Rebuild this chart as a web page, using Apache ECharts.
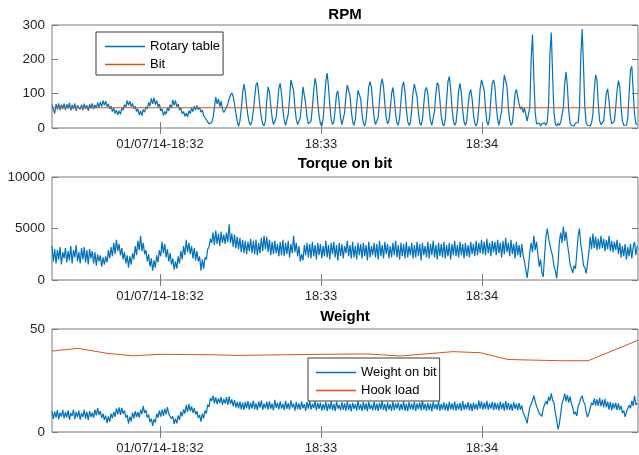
<!DOCTYPE html>
<html><head><meta charset="utf-8">
<script src="https://cdn.jsdelivr.net/npm/echarts@6/dist/echarts.min.js"></script>
<style>html,body{margin:0;padding:0;background:#fff}#c{width:639px;height:455px}</style>
</head><body><div id="c"></div>
<script>
// time axis in seconds after 18:30:00 on 01/07/14
const xMin = 79.8, xMax = 298.1;
const tickSeconds = [120, 180, 240];
const tickLabels = ['01/07/14-18:32', '18:33', '18:34'];
// sampled series: start time and step (s)
const sampleStart = 79.8, sampleStep = 0.5;

const rotaryTable = [
68,55,42,70,54,72,52,68,56,71, 53,69,57,73,51,67,55,72,50,66,
70,54,68,52,71,56,66,50,69,57, 72,55,67,58,74,60,76,62,80,66,
78,62,70,55,64,48,58,42,52,38, 50,40,58,52,68,60,80,66,78,62,
72,56,64,48,56,38,50,36,54,46, 62,56,74,64,86,70,88,68,80,62,
70,50,56,36,48,40,58,50,68,58, 82,66,80,62,70,52,58,42,48,34,
44,32,50,42,58,48,64,52,66,54, 60,46,52,36,40,24,26,12,8,16,
30,60,90,70,85,62,78,55,45,52, 50,70,85,96,102,92,70,42,20,5,
20,55,100,128,105,65,35,15,8,22, 50,90,126,132,100,60,30,12,6,20,
80,120,105,65,30,10,8,30,70,115, 130,100,55,22,8,12,40,85,140,145,
110,60,25,10,6,30,75,120,115,70, 32,12,8,20,60,110,145,125,75,35,
12,6,25,80,135,160,120,65,25,10, 18,55,100,108,70,30,10,12,45,95,
125,130,95,50,18,8,25,70,110,112, 85,40,14,6,22,70,120,135,118,70,
30,10,8,30,80,125,144,120,70,30, 12,20,55,100,118,85,40,14,8,30,
80,122,134,105,55,20,8,15,55,105, 128,130,90,45,15,8,25,70,110,118,
100,55,20,8,12,50,100,132,125,80, 35,12,6,25,80,135,150,115,60,22,
8,15,55,110,130,100,50,18,8,20, 65,100,112,85,40,14,6,18,60,115,
140,145,110,55,18,8,30,85,130,140, 120,65,25,8,12,50,110,155,160,120,
60,22,8,15,55,100,112,110,70,55, 62,45,58,40,20,15,60,200,272,150,
45,12,8,14,6,12,9,15,8,18, 70,220,278,150,45,12,6,14,8,16,
20,60,130,163,120,50,15,8,12,6, 14,10,16,60,210,288,180,60,14,8,
12,6,15,40,110,155,140,70,22,10, 8,20,60,100,114,80,35,12,8,20,
60,110,138,120,60,20,8,12,8,30, 100,170,180,110,40,12,10
];

const bitTimes = [79.8, 298.1];
const bitRpm = [59, 59];

const torqueOnBit = [
3300,1800,3000,1600,2900,2000,3200,1500,2700,2100, 3100,1700,2800,1900,3300,1600,2900,2200,3400,1800,
2700,1600,3100,2000,3200,1700,2900,1500,3000,2100, 2800,1600,2700,1400,2500,1800,2400,1300,2200,1500,
2300,1700,2900,2100,3200,2300,3600,2500,3900,2800, 3500,2400,3100,2000,2700,1600,2400,1200,2300,1500,
2600,2000,3300,2400,3800,2900,4300,2800,3600,2500, 2900,1800,2500,1300,2100,900,1900,1200,2400,1700,
2900,2300,3700,2600,3500,2200,3000,1800,2600,1500, 2100,1000,1800,1100,2300,1600,2800,2000,3300,2400,
3900,2700,3600,2500,3300,2100,3100,1900,2800,1800, 2300,900,2000,1100,2200,2000,3000,3200,4000,3600,
4600,3400,4800,3500,4500,3300,4700,3600,4400,3500, 4600,3700,5400,3600,4500,3200,4400,3100,4200,3000,
4100,2700,3900,2600,3800,2500,3700,2800,4000,2600, 3800,2500,3900,2400,3600,2600,4100,2800,4300,3000,
4200,2700,3900,2400,3700,2500,3800,2600,3500,2300, 3700,2400,3900,2300,3600,2500,3800,2200,3500,2600,
4300,2700,3600,2300,3300,1800,2500,1900,3400,2400, 3600,2200,3500,2100,3700,2300,3400,2000,3600,2400,
3500,2100,3300,2300,3800,2200,3400,2000,3600,2500, 3700,2200,3400,1900,3600,2300,3500,2100,3300,2600,
3800,2300,3400,2100,3700,2200,3300,2000,3600,2400, 3500,2100,3600,2300,3400,1900,3700,2200,3300,2400,
3600,2200,3500,2000,3800,2300,3400,2100,3700,2500, 3500,2100,3300,2200,3600,2400,3800,2200,3400,2000,
3600,2300,3500,2100,3700,2200,3300,2400,3600,2100, 3400,2200,3700,2300,3500,1900,3600,2400,3300,2200,
3700,2100,3500,2400,3800,2200,3400,2000,3600,2300, 3500,2200,3700,2100,3400,2300,3600,2000,3500,2400,
3800,2300,3400,2200,3700,2400,3500,2100,3600,2300, 3400,2200,3700,2500,3500,2300,3800,2400,3600,2600,
3900,2500,3700,2400,4000,2600,3600,2300,3800,2700, 3700,2400,3900,2600,3600,2200,3800,2500,4100,2700,
3600,2300,3900,2500,3500,2100,3700,2400,3400,2200, 3500,2400,1800,1000,200,1300,2700,3600,2700,4300,
2900,3700,2500,1300,2000,700,300,2400,4200,5000, 4000,3900,2800,2300,1300,900,160,1600,3700,4600,
3600,5200,3800,4700,3500,2600,1500,1100,700,1400, 1100,2600,4300,5000,3400,2600,1400,1200,650,1600,
2700,4200,3000,4500,3100,4200,2900,4000,3000,4300, 3100,4000,2800,3900,3000,4300,2800,3800,2700,3700,
2900,3900,2500,3600,2200,3300,2300,3500,2000,3200, 2300,3500,2100,3200,3700,2400,3300
];

const weightOnBit = [
10.2,6.4,9.9,7.0,10.6,6.1,9.4,7.5,10.8,6.6, 9.7,7.1,10.5,5.9,9.2,7.8,10.9,6.3,9.6,7.2,
10.4,6.0,9.1,7.4,10.7,6.5,9.8,5.8,10.1,7.3, 9.4,6.9,10.8,8.1,11.6,8.3,10.2,6.8,8.9,5.9,
8.0,4.3,7.6,5.0,8.9,6.7,9.8,7.4,11.5,8.6, 12.0,8.3,11.7,8.9,10.4,7.1,8.2,4.0,7.5,5.2,
9.4,6.6,10.1,7.3,9.6,7.0,10.8,8.7,12.6,9.2, 10.6,7.0,8.4,4.8,6.5,3.0,6.2,4.6,8.9,7.0,
10.4,7.5,10.9,7.8,11.3,8.6,12.1,8.8,9.4,6.4, 7.6,3.9,6.5,4.2,8.0,5.9,9.9,7.6,10.9,8.9,
13.2,9.8,13.6,10.2,12.4,9.3,11.6,8.5,10.1,6.9, 8.2,5.0,8.9,6.6,10.4,9.0,13.3,12.2,16.4,15.1,
17.6,14.0,16.8,13.5,16.3,14.1,17.0,13.2,16.1,13.8, 16.9,13.1,17.2,13.6,15.8,12.4,15.5,11.8,14.6,11.5,
14.8,11.0,14.3,10.7,14.6,11.6,15.0,10.9,14.2,11.4, 15.2,11.1,13.9,10.6,14.7,11.8,15.3,10.8,13.8,11.5,
14.6,10.9,14.9,11.3,13.7,10.5,15.6,11.7,14.2,11.0, 14.9,11.4,13.6,10.6,15.1,11.2,14.0,10.8,15.4,11.9,
13.8,10.4,14.5,11.1,13.9,10.7,14.8,11.5,13.5,10.2, 14.6,11.3,15.0,10.9,13.7,11.6,14.9,10.5,14.1,11.2,
14.3,10.4,13.5,10.9,14.6,10.2,13.8,11.0,14.9,10.6, 13.6,10.1,14.7,11.3,13.2,10.5,14.4,10.8,13.9,10.3,
14.8,10.7,13.7,10.0,14.2,11.2,13.5,10.4,15.0,10.9, 13.4,10.2,14.5,10.8,13.9,10.1,14.6,11.1,13.3,10.5,
14.7,10.6,13.8,10.3,14.1,11.0,15.1,10.7,13.6,10.0, 14.4,10.9,13.5,10.2,14.8,10.6,13.9,11.3,14.2,10.4,
13.7,10.8,14.9,10.3,13.6,10.1,14.5,11.0,13.8,10.7, 14.6,10.2,13.9,11.1,14.3,10.5,15.2,10.9,13.7,10.4,
14.1,10.6,13.8,10.0,14.7,11.2,13.5,10.8,14.9,10.3, 13.6,10.9,14.4,10.5,13.8,10.1,14.6,11.0,13.9,10.6,
14.8,10.4,13.7,10.9,14.2,10.2,15.0,10.8,13.5,11.1, 14.5,10.5,13.9,10.1,14.3,11.0,13.6,10.7,15.3,11.4,
14.9,10.8,14.2,11.2,15.1,10.9,13.8,11.3,14.6,10.6, 14.4,11.0,13.9,10.5,14.7,11.1,14.0,10.4,15.0,10.9,
14.2,10.7,13.6,10.3,14.5,11.2,13.8,10.6,14.1,10.8, 12.9,9.4,10.1,6.6,4.2,8.6,12.0,13.5,15.3,17.6,
14.9,12.6,12.0,9.1,8.3,7.6,11.4,12.2,15.0,13.4, 17.0,15.2,18.7,15.4,14.1,9.2,6.0,1.3,3.8,8.9,
14.0,15.8,18.6,14.9,17.9,14.3,17.2,13.6,12.0,8.6, 9.8,7.8,12.6,13.9,16.4,17.6,14.8,13.6,9.6,7.2,
9.1,8.8,14.2,13.1,16.3,12.8,15.9,12.7,16.6,12.5, 15.7,12.0,16.1,11.9,14.8,10.9,14.6,10.5,14.0,11.3,
14.2,10.6,13.9,10.8,12.7,9.2,10.4,7.3,9.8,8.9, 13.0,11.5,15.1,12.6,17.6,13.2,14.0
];

const hookTimes = [79.8, 89.5, 100.3, 110.0, 120.0, 139.8, 148.7, 179.7, 197.2, 209.5, 229.2, 239.3, 249.7, 269.1, 279.5, 298.1];
const hookLoad = [39.3, 40.6, 38.2, 37.0, 37.7, 37.5, 37.2, 37.7, 37.9, 36.9, 39.0, 38.5, 35.2, 34.6, 34.6, 44.5];

const titles = ['RPM', 'Torque on bit', 'Weight'];
const yMax = [300, 10000, 50];
const yInterval = [100, 5000, 50];

const BLUE = '#0072BD', ORANGE = '#D95319';
const FONT = '"Liberation Sans", Arial, Helvetica, sans-serif';
const FRAME = '#7a7a7a';

function sampled(vals) { return vals.map((v, i) => [sampleStart + i * sampleStep, v]); }
function paired(ts, vs) { return ts.map((t, i) => [t, vs[i]]); }

const gridTops = [25, 177, 329];
const grid = gridTops.map(t => ({ left: 52, top: t, width: 586, height: 103, show: true, borderColor: FRAME, borderWidth: 1, backgroundColor: '#fff' }));

const xAxis = [], yAxis = [];
for (let g = 0; g < 3; g++) {
  for (const pos of ['bottom', 'top']) {
    xAxis.push({
      type: 'value', gridIndex: g, min: xMin, max: xMax, position: pos,
      axisLine: { show: false }, splitLine: { show: false },
      axisTick: { show: true, inside: true, length: 6, customValues: tickSeconds, lineStyle: { color: FRAME } },
      axisLabel: { show: pos === 'bottom', customValues: tickSeconds, margin: 10, fontSize: 13, color: '#262626', fontFamily: FONT,
        formatter: v => { const k = tickSeconds.indexOf(Math.round(v)); return k >= 0 ? tickLabels[k] : ''; } }
    });
  }
  for (const pos of ['left', 'right']) {
    yAxis.push({
      type: 'value', gridIndex: g, min: 0, max: yMax[g], interval: yInterval[g], position: pos,
      axisLine: { show: false }, splitLine: { show: false },
      axisTick: { show: true, inside: true, length: 6, lineStyle: { color: FRAME } },
      axisLabel: { show: pos === 'left', margin: 7, fontSize: 13.5, color: '#262626', fontFamily: FONT,
        formatter: v => String(v) }
    });
  }
}

const line = (name, data, g, color, w) => ({
  name, type: 'line', data, xAxisIndex: 2 * g, yAxisIndex: 2 * g, symbol: 'none', showSymbol: false,
  lineStyle: { width: w, color }, itemStyle: { color }, clip: true, animation: false
});

const legendBase = { orient: 'vertical', icon: 'rect', itemWidth: 40, itemHeight: 1.5, itemGap: 5,
  backgroundColor: '#fff', borderColor: '#3a3a3a', borderWidth: 1, borderRadius: 0,
  textStyle: { fontSize: 13, color: '#000', fontFamily: FONT, lineHeight: 13 }, selectedMode: false };

const option = {
  animation: false,
  backgroundColor: '#fff',
  title: titles.map((t, i) => ({ text: t, left: 345, top: [7, 156, 309][i], textAlign: 'center', padding: 0,
    textStyle: { fontSize: 15, fontWeight: 'bold', color: '#000', fontFamily: FONT } })),
  grid, xAxis, yAxis,
  legend: [
    Object.assign({}, legendBase, { data: ['Rotary table', 'Bit'], left: 96, top: 32, padding: [8, 3, 4, 9] }),
    Object.assign({}, legendBase, { data: ['Weight on bit', 'Hook load'], left: 308, top: 358, padding: [8, 3, 4, 8] })
  ],
  series: [
    line('Rotary table', sampled(rotaryTable), 0, BLUE, 1.2),
    line('Bit', paired(bitTimes, bitRpm), 0, ORANGE, 1),
    line('Torque on bit', sampled(torqueOnBit), 1, BLUE, 1.2),
    line('Weight on bit', sampled(weightOnBit), 2, BLUE, 1.2),
    line('Hook load', paired(hookTimes, hookLoad), 2, ORANGE, 1)
  ]
};

const chart = echarts.init(document.getElementById('c'), null, { renderer: 'canvas' });
chart.setOption(option);
</script></body></html>
